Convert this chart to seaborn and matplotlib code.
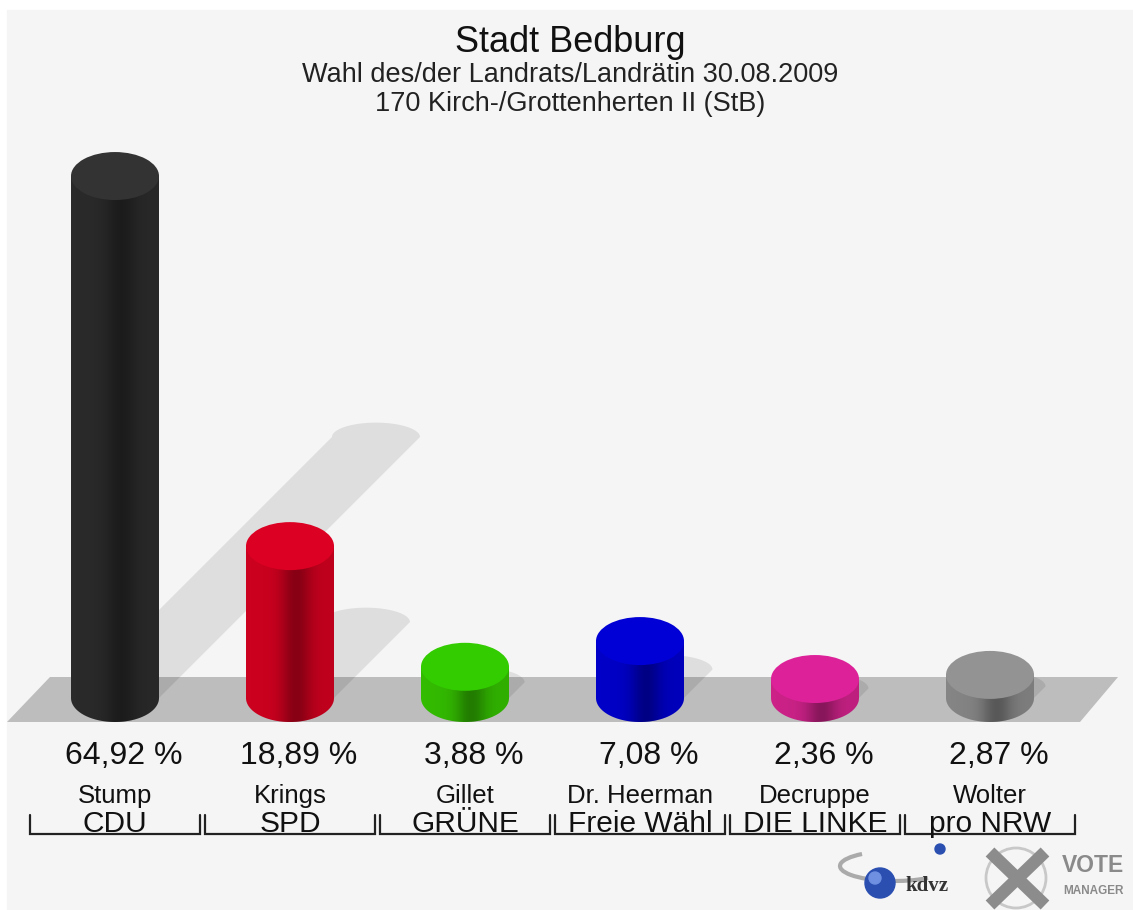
import numpy as np
import pandas as pd
import matplotlib
matplotlib.use("Agg")
import matplotlib.pyplot as plt
import seaborn as sns
from matplotlib.patches import Polygon, Ellipse, Rectangle, Circle, Arc

# --- data -------------------------------------------------------------
candidates = ["Stump", "Krings", "Gillet", "Dr. Heerman", "Decruppe", "Wolter"]
parties = ["CDU", "SPD", "GRÜNE", "Freie Wähl", "DIE LINKE", "pro NRW"]
shares = [64.92, 18.89, 3.88, 7.08, 2.36, 2.87]
share_labels = ["64,92 %", "18,89 %", "3,88 %", "7,08 %", "2,36 %", "2,87 %"]
body_colors = ["#2a2a2a", "#cc001f", "#33bb00", "#0000c8", "#cc2288", "#858585"]
top_colors = ["#333333", "#dc0022", "#33cc00", "#0000d6", "#dd2299", "#939393"]

title = "Stadt Bedburg"
subtitle = "Wahl des/der Landrats/Landrätin 30.08.2009"
district = "170 Kirch-/Grottenherten II (StB)"

# --- geometry (pixels of the 1133x910 canvas) -------------------------
W, H = 1133, 910
X0, DX = 115, 175      # first bar centre, bar spacing
Y0, SY = 698, 8.04     # baseline, pixels per percent
bar_w = 88 / DX
ell_h = 48 / SY        # full height of the cylinder ellipses (data units)
k_shadow = 0.5


def px_x(xp):
    return (xp - X0) / DX


def px_y(yp):
    return (Y0 - yp) / SY


def fy(yp):
    # pixel row -> axes fraction (axes fills the figure)
    return 1 - yp / H


sns.set_style("white")
plt.rcParams["font.family"] = ["Liberation Sans", "DejaVu Sans"]

fig = plt.figure(figsize=(W / 100, H / 100), dpi=100)
fig.patch.set_facecolor("white")
fig.add_artist(Rectangle((7 / W, 0), 1, 1 - 10 / H, transform=fig.transFigure,
                         color="#f5f5f5", zorder=-10))
ax = fig.add_axes([0, 0, 1, 1])

df = pd.DataFrame({"Partei": parties, "Anteil": shares})
sns.barplot(data=df, x="Partei", y="Anteil", hue="Partei", palette=body_colors,
            width=bar_w, saturation=1, legend=False, ax=ax, zorder=3,
            linewidth=0, edgecolor="none")

# floor
floor = [(7, 722), (50, 677), (1118, 677), (1080, 722)]
ax.add_patch(Polygon([(px_x(a), px_y(b)) for a, b in floor], closed=True,
                     facecolor="#bdbdbd", edgecolor="none", zorder=0.5))

theta_lo = np.linspace(np.pi, 2 * np.pi, 80)
theta_hi = np.linspace(np.pi, 0, 80)
grad_x = np.linspace(0, 1, 200)
alpha = 0.30 * np.exp(-((grad_x - 0.57) / 0.17) ** 2) + 0.07 * grad_x
grad = np.zeros((1, grad_x.size, 4))
grad[0, :, 3] = alpha

xt = ax.get_xaxis_transform()
for i, v in enumerate(shares):
    half = bar_w / 2
    # shadow: sheared copy of the cylinder
    dx = k_shadow * v * SY / DX
    yt = k_shadow * v
    arc = [(i + dx + half * np.cos(t), yt + 0.6 * ell_h / 2 * np.sin(t)) for t in theta_hi]
    shadow = [(i - half, 0)] + arc + [(i + half, 0)]
    ax.add_patch(Polygon(shadow, closed=True, facecolor="black", alpha=0.09,
                         edgecolor="none", zorder=1))

    # body with rounded bottom
    lower = [(i + half * np.cos(t), ell_h / 2 * np.sin(t)) for t in theta_lo]
    body = Polygon([(i - half, v)] + lower + [(i + half, v)], closed=True,
                   facecolor=body_colors[i], edgecolor="none", zorder=2.9)
    ax.add_patch(body)
    im = ax.imshow(grad, extent=[i - half, i + half, -ell_h / 2, v], aspect="auto",
                   interpolation="bilinear", zorder=3.2)
    im.set_clip_path(body)

    # top
    ax.add_patch(Ellipse((i, v), bar_w, ell_h, facecolor=top_colors[i],
                         edgecolor="none", zorder=3.5))

    # labels
    ax.text(i + 0.05, fy(764), share_labels[i], transform=xt, ha="center",
            va="baseline", fontsize=23, color="#111111")
    ax.text(i, fy(803), candidates[i], transform=xt, ha="center",
            va="baseline", fontsize=18.5, color="#111111")
    ax.text(i, fy(832), parties[i], transform=xt, ha="center",
            va="baseline", fontsize=21.5, color="#111111")
    b = 0.486
    ax.plot([i - b, i - b, i + b, i + b], [fy(815), fy(834), fy(834), fy(815)],
            transform=xt, color="#222222", lw=1.6, solid_joinstyle="miter")

ax.set_xlim(px_x(0), px_x(W))
ax.set_ylim(px_y(H), px_y(0))
ax.axis("off")

fig.text(570 / W, fy(42), title, ha="center", va="center", fontsize=26, color="#111111")
fig.text(570 / W, fy(75), subtitle, ha="center", va="center", fontsize=19.5, color="#222222")
fig.text(570 / W, fy(104), district, ha="center", va="center", fontsize=19.5, color="#222222")

# logo (bottom right)
lg = fig.add_axes([0, 0, 1, 1], zorder=5)
lg.set_xlim(0, W)
lg.set_ylim(H, 0)
lg.axis("off")
lg.add_patch(Arc((895, 866), 110, 30, theta1=20, theta2=200, color="#aaaaaa", lw=3))
lg.add_patch(Circle((880, 883), 15, color="#2a4fb0"))
lg.add_patch(Circle((875, 878), 6, color="#6f8fe0"))
lg.add_patch(Circle((940, 849), 5, color="#2a4fb0"))
lg.text(905, 886, "kdvz", fontsize=15, fontweight="bold", family="Liberation Serif",
        color="#333333", va="center")
lg.add_patch(Circle((1016, 878), 30, fill=False, color="#c8c8c8", lw=2))
lg.plot([990, 1045], [852, 905], color="#8c8c8c", lw=9, solid_capstyle="butt")
lg.plot([1045, 990], [852, 905], color="#8c8c8c", lw=9, solid_capstyle="butt")
lg.text(1062, 866, "VOTE", fontsize=16.5, fontweight="bold", color="#8a8a8a", va="center")
lg.text(1063, 891, "MANAGER", fontsize=8.5, fontweight="bold", color="#8a8a8a", va="center")

fig.savefig("out.png", dpi=100)
